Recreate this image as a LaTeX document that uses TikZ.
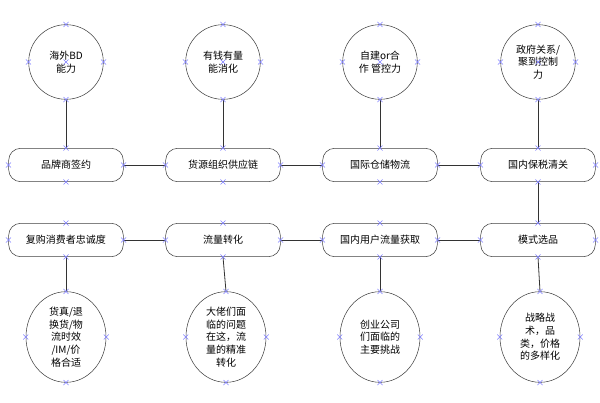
\documentclass[tikz,border=0pt]{standalone}
\usepackage{fontspec}
\newfontfamily\cjk{Noto Sans CJK SC}
\usetikzlibrary{shapes.geometric}
\begin{document}
\begin{tikzpicture}[x=0.75pt,y=-0.75pt,
 box/.style={draw=black!75,rounded corners=9pt,minimum width=86pt,minimum height=25pt,font=\cjk\fontsize{7.5}{9}\selectfont},
 circ/.style={draw=black!75,circle,minimum size=56pt,inner sep=0pt,align=center,font=\cjk\fontsize{7.5}{9.5}\selectfont},
 ell/.style={draw=black!75,ellipse,minimum width=60pt,minimum height=68pt,inner sep=0pt,align=center,font=\cjk\fontsize{7.5}{9.5}\selectfont},
 ln/.style={draw=black!80,line width=0.6pt},
 mk/.style={draw=blue!50,line width=0.4pt}]
\useasboundingbox (0,0) rectangle (600,403);
\node[circ] (c1) at (66,62) {海外BD\\能力};
\node[circ] (c2) at (223,62) {有钱有量\\能消化};
\node[circ] (c3) at (380,62) {自建or合\\作 管控力};
\node[circ] (c4) at (538,62) {政府关系/\\聚到控制\\力};
\node[box] (a1) at (66,165) {品牌商签约};
\node[box] (a2) at (223,165) {货源组织供应链};
\node[box] (a3) at (380,165) {国际仓储物流};
\node[box] (a4) at (538,165) {国内保税清关};
\node[box] (b1) at (66,240) {复购消费者忠诚度};
\node[box] (b2) at (223,240) {流量转化};
\node[box] (b3) at (380,240) {国内用户流量获取};
\node[box] (b4) at (538,240) {模式选品};
\node[ell] (e1) at (66,337) {货真/退\\换货/物\\流时效\\/IM/价\\格合适};
\node[ell] (e2) at (226,337) {大佬们面\\临的问题\\在这，流\\量的精准\\转化};
\node[ell] (e3) at (380,337) {创业公司\\们面临的\\主要挑战};
\node[ell] (e4) at (540,337) {战略战\\术，品\\类，价格\\的多样化};
\foreach \i in {1,...,4}{\draw[ln] (c\i) -- (a\i);}
\draw[ln] (a1)--(a2); \draw[ln] (a2)--(a3); \draw[ln] (a3)--(a4);
\draw[ln] (a4)--(b4);
\draw[ln] (b4)--(b3); \draw[ln] (b3)--(b2); \draw[ln] (b2)--(b1);
\draw[ln] (b1)--(e1); \draw[ln] (b2.south) -- (e2.north);
\draw[ln] (b3)--(e3); \draw[ln] (b4.south)--(e4.north);
\foreach \n in {c1,c2,c3,c4,e1,e2,e3,e4,a1,a2,a3,a4,b1,b2,b3,b4}{
 \foreach \a in {north,south,east,west}{
  \draw[mk] ([shift={(-2.5,-2.5)}]\n.\a) -- ++(5,5) ([shift={(-2.5,2.5)}]\n.\a) -- ++(5,-5);}}
\foreach \n in {c1,c2,c3,c4}{\draw[mk] ([shift={(-2.5,-2.5)}]\n.center) -- ++(5,5) ([shift={(-2.5,2.5)}]\n.center) -- ++(5,-5);}
\end{tikzpicture}
\end{document}
